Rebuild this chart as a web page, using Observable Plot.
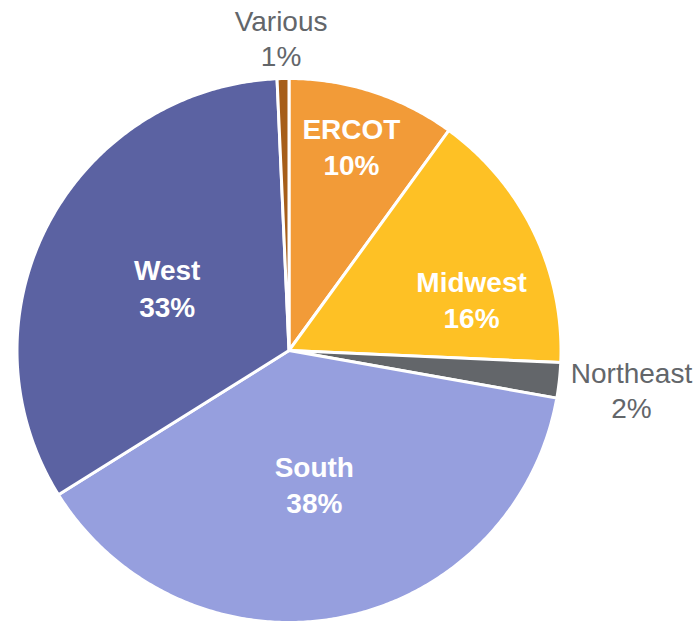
<!DOCTYPE html>
<html>
<head>
<meta charset="utf-8">
<script src="https://cdn.jsdelivr.net/npm/d3@7"></script>
<script src="https://cdn.jsdelivr.net/npm/@observablehq/plot@0.6"></script>
<style>
  html, body { margin: 0; padding: 0; background: #ffffff; }
  #chart { width: 699px; height: 623px; }
</style>
</head>
<body>
<div id="chart"></div>
<script>
// Data
const regions = ["ERCOT", "Midwest", "Northeast", "South", "West", "Various"];
const shares = [10.0, 15.7, 2.1, 38.3, 33.2, 0.7];
const shareLabels = ["10%", "16%", "2%", "38%", "33%", "1%"];
const colors = ["#F29B38", "#FEC125", "#63666A", "#969FDE", "#5B62A2", "#A65E1A"];
const insideLabel = [true, true, false, true, true, false];

// Layout (label placement relative to slice mid-angle, radius fraction)
const R = 272;
const labelRadius = [0.776, 0.695, 1.268, 0.507, 0.5, 1.143];
const labelNudgeDeg = [-0.8, 10.7, 0.5, 0.4, -1.3, -0.2];

const arcs = d3.pie().sort(null).value(d => d)(shares);

// Build slice polygons from pie angles
const slicePts = [];
arcs.forEach((a, i) => {
  const name = regions[i];
  slicePts.push({name, x: 0, y: 0});
  const n = Math.max(2, Math.ceil((a.endAngle - a.startAngle) / (Math.PI / 360)));
  for (let k = 0; k <= n; k++) {
    const t = a.startAngle + (a.endAngle - a.startAngle) * k / n;
    slicePts.push({name, x: R * Math.sin(t), y: R * Math.cos(t)});
  }
  slicePts.push({name, x: 0, y: 0});
});

const labels = arcs.map((a, i) => {
  const mid = (a.startAngle + a.endAngle) / 2 + labelNudgeDeg[i] * Math.PI / 180;
  const r = R * labelRadius[i];
  return {
    text: regions[i] + "\n" + shareLabels[i],
    x: r * Math.sin(mid),
    y: r * Math.cos(mid),
    inside: insideLabel[i]
  };
});

const chart = Plot.plot({
  width: 699,
  height: 623,
  margin: 0,
  style: {fontFamily: "'Liberation Sans', Arial, sans-serif", background: "#ffffff"},
  x: {domain: [-288.5, 410.5], axis: null},
  y: {domain: [-273, 350], axis: null},
  color: {domain: regions, range: colors},
  marks: [
    Plot.line(slicePts, {
      x: "x", y: "y", z: "name", fill: "name",
      stroke: "#ffffff", strokeWidth: 3, strokeLinejoin: "round", curve: "linear"
    }),
    Plot.text(labels.filter(d => d.inside), {
      x: "x", y: "y", text: "text", fill: "#ffffff", dy: -3,
      fontSize: 28, fontWeight: "bold", lineHeight: 1.29
    }),
    Plot.text(labels.filter(d => !d.inside), {
      x: "x", y: "y", text: "text", fill: "#63666A", dy: -2,
      fontSize: 28, lineHeight: 1.25
    })
  ]
});
document.getElementById("chart").appendChild(chart);
</script>
</body>
</html>
